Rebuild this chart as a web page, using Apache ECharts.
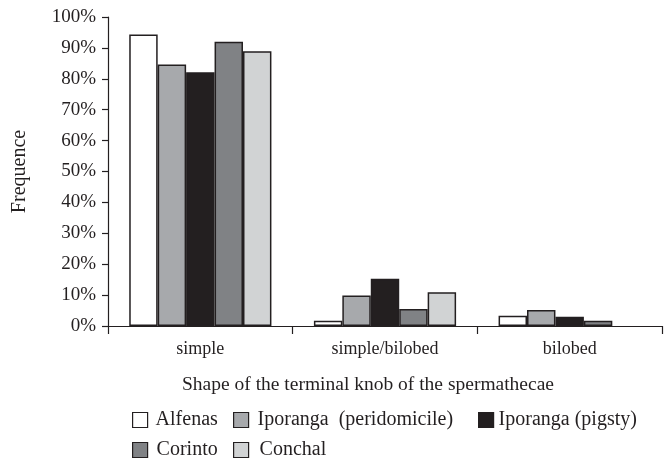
<!DOCTYPE html>
<html>
<head>
<meta charset="utf-8">
<script src="https://cdn.jsdelivr.net/npm/echarts@6/dist/echarts.min.js"></script>
<style>
  html, body { margin: 0; padding: 0; background: #fff; }
  #chart { width: 668px; height: 460px; }
</style>
</head>
<body>
<div id="chart"></div>
<script>
const categories = ["simple", "simple/bilobed", "bilobed"];
const seriesNames = ["Alfenas", "Iporanga  (peridomicile)", "Iporanga (pigsty)", "Corinto", "Conchal"];
const alfenas = [94.3, 1.7, 3.3];
const iporangaPeri = [84.6, 9.9, 5.2];
const iporangaPigsty = [82.1, 15.3, 3.0];
const corinto = [92.0, 5.5, 1.7];
const conchal = [88.9, 10.9, null]; // no bar drawn for bilobed
const yTicks = [0, 10, 20, 30, 40, 50, 60, 70, 80, 90, 100];

const values = [alfenas, iporangaPeri, iporangaPigsty, corinto, conchal];
const colors = ["#ffffff", "#a7a9ac", "#231f20", "#808285", "#d1d3d4"];
const ink = "#231f20";
const font = "'Liberation Serif', 'Times New Roman', serif";

// one legend per item so each can sit where the original has it
const legendSpots = [
  { left: 132, top: 410, gap: 3 },
  { left: 233, top: 410, gap: 4 },
  { left: 478, top: 410, gap: 0 },
  { left: 132, top: 440, gap: 4 },
  { left: 233, top: 440, gap: 6 }
];

const chart = echarts.init(document.getElementById("chart"));
chart.setOption({
  animation: false,
  textStyle: { fontFamily: font, color: ink },
  grid: { left: 108, right: 6, top: 17, bottom: 134 },
  legend: seriesNames.map((name, i) => ({
    data: [name],
    left: legendSpots[i].left,
    top: legendSpots[i].top,
    padding: 0,
    icon: "rect",
    itemWidth: 15,
    itemHeight: 15,
    selectedMode: false,
    itemStyle: { borderColor: ink, borderWidth: 1.2 },
    textStyle: { fontFamily: font, fontSize: 20, color: ink, padding: [0, 0, 0, legendSpots[i].gap] }
  })),
  graphic: [{
    type: "text",
    x: 368,
    y: 385,
    style: {
      text: "Shape of the terminal knob of the spermathecae",
      font: "19.5px " + font,
      fill: ink,
      align: "center",
      verticalAlign: "middle"
    }
  }],
  xAxis: {
    type: "category",
    data: categories,
    axisLine: { lineStyle: { color: ink, width: 1.2 } },
    axisTick: { show: true, alignWithLabel: false, interval: 0, length: 8, lineStyle: { color: ink, width: 1.2 } },
    axisLabel: { fontSize: 18, color: ink, fontFamily: font, margin: 14 },
    splitLine: { show: false }
  },
  yAxis: {
    type: "value",
    min: yTicks[0],
    max: yTicks[yTicks.length - 1],
    interval: yTicks[1] - yTicks[0],
    name: "Frequence",
    nameLocation: "middle",
    nameGap: 78,
    nameTextStyle: { fontSize: 20, color: ink, fontFamily: font },
    axisLine: { show: true, lineStyle: { color: ink, width: 1.2 } },
    axisTick: { show: true, length: 6, lineStyle: { color: ink, width: 1.2 } },
    axisLabel: { fontSize: 19, color: ink, fontFamily: font, margin: 12, formatter: "{value}%" },
    splitLine: { show: false }
  },
  series: seriesNames.map((name, i) => ({
    name: name,
    type: "bar",
    data: values[i],
    barGap: "0%",
    barCategoryGap: "23%",
    itemStyle: { color: colors[i], borderColor: ink, borderWidth: 1.5 }
  }))
});
</script>
</body>
</html>
